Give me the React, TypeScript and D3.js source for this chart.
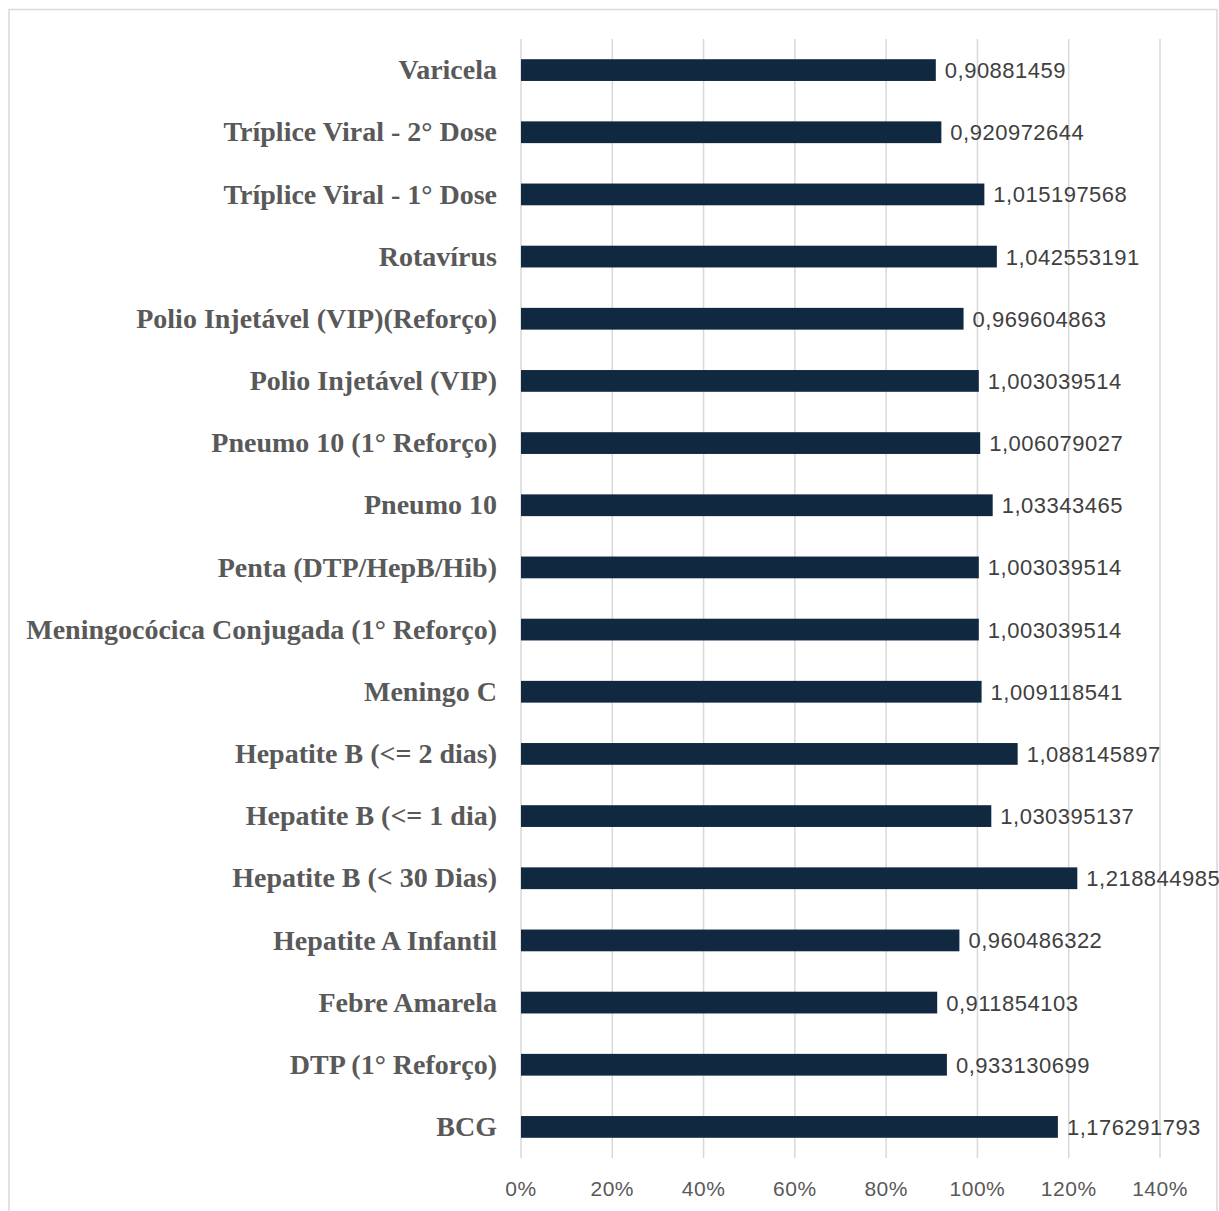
import React from "react";
import * as d3 from "d3";

const categories = [
  "Varicela",
  "Tríplice Viral - 2° Dose",
  "Tríplice Viral - 1° Dose",
  "Rotavírus",
  "Polio Injetável (VIP)(Reforço)",
  "Polio Injetável (VIP)",
  "Pneumo 10 (1° Reforço)",
  "Pneumo 10",
  "Penta (DTP/HepB/Hib)",
  "Meningocócica Conjugada (1° Reforço)",
  "Meningo C",
  "Hepatite B (<= 2 dias)",
  "Hepatite B (<= 1 dia)",
  "Hepatite B (< 30 Dias)",
  "Hepatite A Infantil",
  "Febre Amarela",
  "DTP (1° Reforço)",
  "BCG",
];

const values = [
  0.90881459, 0.920972644, 1.015197568, 1.042553191, 0.969604863, 1.003039514,
  1.006079027, 1.03343465, 1.003039514, 1.003039514, 1.009118541, 1.088145897,
  1.030395137, 1.218844985, 0.960486322, 0.911854103, 0.933130699, 1.176291793,
];

const valueLabels = [
  "0,90881459", "0,920972644", "1,015197568", "1,042553191", "0,969604863",
  "1,003039514", "1,006079027", "1,03343465", "1,003039514", "1,003039514",
  "1,009118541", "1,088145897", "1,030395137", "1,218844985", "0,960486322",
  "0,911854103", "0,933130699", "1,176291793",
];

const xTicks = [0, 0.2, 0.4, 0.6, 0.8, 1.0, 1.2, 1.4];

const W = 1219;
const H = 1211;

export default function App() {
  const x = d3.scaleLinear().domain([0, 1.4]).range([521, 1160]);
  const y = d3
    .scaleBand<string>()
    .domain(categories)
    .range([39, 1158])
    .paddingInner(0.65)
    .paddingOuter(0.325);
  const fmt = d3.format(".0%");
  const labelFont = "'Liberation Serif', 'Times New Roman', serif";
  const numFont = "'Liberation Sans', Arial, sans-serif";

  return (
    <div style={{ position: "absolute", left: 0, top: 0 }}>
      <svg width={W} height={H} style={{ display: "block", background: "#fff" }}>
        <rect x={9} y={9.5} width={1208} height={1220} fill="#fff" stroke="#d9d9d9" strokeWidth={1.5} />
        {xTicks.map((t) => (
          <line key={"g" + t} x1={x(t)} x2={x(t)} y1={39} y2={1158} stroke="#d9d9d9" strokeWidth={1.5} />
        ))}
        {categories.map((c, i) => {
          const yy = y(c)!;
          const bw = y.bandwidth();
          return (
            <g key={c}>
              <rect x={x(0)} y={yy} width={x(values[i]) - x(0)} height={bw} fill="#112841" />
              <text
                x={x(values[i]) + 9}
                y={yy + bw / 2}
                dy="0.36em"
                fontFamily={numFont}
                fontSize={22}
                letterSpacing={0.5}
                fill="#404040"
              >
                {valueLabels[i]}
              </text>
              <text
                x={497}
                y={yy + bw / 2}
                dy="0.33em"
                textAnchor="end"
                fontFamily={labelFont}
                fontWeight="bold"
                fontSize={28}
                fill="#595959"
              >
                {c}
              </text>
            </g>
          );
        })}
        {xTicks.map((t) => (
          <text
            key={"t" + t}
            x={x(t)}
            y={1196}
            textAnchor="middle"
            fontFamily={numFont}
            fontSize={21}
            letterSpacing={0.5}
            fill="#595959"
          >
            {fmt(t)}
          </text>
        ))}
      </svg>
    </div>
  );
}
